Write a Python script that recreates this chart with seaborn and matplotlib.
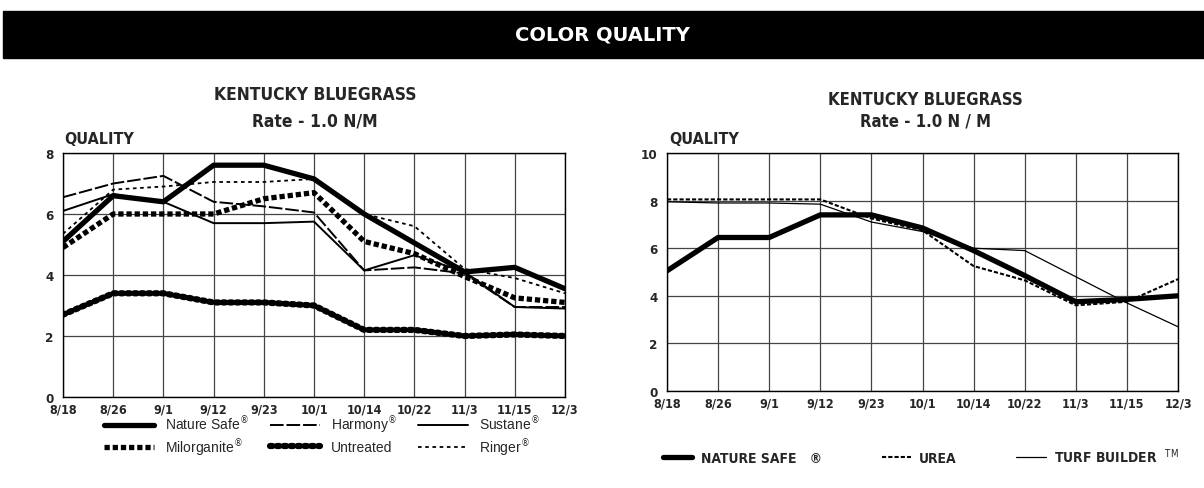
import numpy as np
import pandas as pd
import matplotlib
matplotlib.use("Agg")
import matplotlib.pyplot as plt
import seaborn as sb
from matplotlib.patches import Rectangle

# Datas de avaliação
datas = ["8/18", "8/26", "9/1", "9/12", "9/23", "10/1", "10/14", "10/22", "11/3", "11/15", "12/3"]

# Gráfico da esquerda
nature_safe_e = [5.1, 6.6, 6.4, 7.6, 7.6, 7.15, 6.0, 5.05, 4.1, 4.25, 3.55]
milorganite = [4.9, 6.0, 6.0, 6.0, 6.5, 6.7, 5.1, 4.7, 3.95, 3.25, 3.1]
untreated = [2.7, 3.4, 3.4, 3.1, 3.1, 3.0, 2.2, 2.2, 2.0, 2.05, 2.0]
harmony = [6.55, 7.0, 7.25, 6.4, 6.25, 6.05, 4.15, 4.25, 4.05, 2.95, 2.95]
sustane = [6.1, 6.65, 6.4, 5.7, 5.7, 5.75, 4.15, 4.65, 4.1, 2.95, 2.9]
ringer = [5.35, 6.8, 6.9, 7.05, 7.05, 7.15, 6.0, 5.6, 4.2, 3.9, 3.4]

# Gráfico da direita
nature_safe_d = [5.05, 6.45, 6.45, 7.4, 7.4, 6.85, 5.9, 4.85, 3.75, 3.85, 4.0]
urea = [8.05, 8.05, 8.05, 8.05, 7.25, 6.75, 5.25, 4.65, 3.6, 3.75, 4.7]
turf_builder = [7.95, 7.9, 7.9, 7.85, 7.1, 6.7, 6.0, 5.9, 4.8, 3.7, 2.7]

sb.set_style("white")
plt.rcParams["font.family"] = ["DejaVu Sans"]
plt.rcParams["font.stretch"] = "condensed"

# fonte estreita e negrito para títulos e eixos
estreita = dict(family="DejaVu Sans", stretch="condensed", weight="bold")

fig = plt.figure(figsize=(12.04, 4.89), dpi=100)

# Faixa preta do título
fig.patches.append(Rectangle((3 / 1204, 1 - 59 / 489), 1, 47 / 489,
                             transform=fig.transFigure, color="black", zorder=0))
fig.text(0.5, 1 - 35 / 489, "COLOR QUALITY", color="white", ha="center", va="center",
         fontsize=14, fontweight="bold", family="DejaVu Sans", fontstretch="normal")

pos_x = np.arange(len(datas))


def prepara_eixo(ax, ymax):
    ax.set_xlim(0, len(datas) - 1)
    ax.set_ylim(0, ymax)
    ax.set_xticks(pos_x)
    ax.set_xticklabels(datas, fontsize=9, **estreita)
    ax.set_yticks(np.arange(0, ymax + 1, 2))
    ax.set_yticklabels([str(v) for v in range(0, ymax + 1, 2)], fontsize=9.5, **estreita)
    ax.tick_params(axis="x", length=0, pad=4)
    ax.tick_params(axis="y", length=0, pad=7)
    ax.grid(True, color="#444444", linewidth=0.9)
    for s in ax.spines.values():
        s.set_color("black")
        s.set_linewidth(1.0)
    ax.set_xlabel("")
    ax.set_ylabel("")


# ---- Esquerda ----
ax1 = fig.add_axes([63 / 1204, 1 - 398 / 489, 502 / 1204, 244 / 489])
series_e = [
    (nature_safe_e, "Nature Safe$^{\\circledR}$", dict(linewidth=3.8, linestyle="-")),
    (milorganite, "Milorganite$^{\\circledR}$", dict(linewidth=3.8, linestyle=(0, (1.0, 0.55)))),
    (harmony, "Harmony$^{\\circledR}$", dict(linewidth=1.4, linestyle=(0, (7, 1.5)))),
    (untreated, "Untreated", dict(linewidth=4.5, linestyle=(0, (0.4, 0.7)), dash_capstyle="round")),
    (sustane, "Sustane$^{\\circledR}$", dict(linewidth=1.4, linestyle="-")),
    (ringer, "Ringer$^{\\circledR}$", dict(linewidth=1.3, linestyle=(0, (2, 2)))),
]
for valores, nome, estilo in series_e:
    sb.lineplot(x=pos_x, y=valores, ax=ax1, color="black", label=nome, **estilo)
prepara_eixo(ax1, 8)
handles, labels = ax1.get_legend_handles_labels()
ax1.get_legend().remove()
fig.legend(handles, labels, loc="center", bbox_to_anchor=(322 / 1204, 1 - 437 / 489),
           ncol=3, frameon=False, handlelength=3.6, handletextpad=0.8, columnspacing=1.5,
           labelspacing=0.3,
           prop={"family": "Liberation Sans", "size": 10, "stretch": "normal"})

fig.text(315 / 1204, 1 - 95 / 489, "KENTUCKY BLUEGRASS", ha="center", va="center",
         fontsize=12.5, **estreita)
fig.text(315 / 1204, 1 - 122 / 489, "Rate - 1.0 N/M", ha="center", va="center",
         fontsize=12.5, **estreita)
fig.text(64 / 1204, 1 - 140 / 489, "QUALITY", ha="left", va="center",
         fontsize=11.5, **estreita)

# ---- Direita ----
ax2 = fig.add_axes([667 / 1204, 1 - 392 / 489, 511 / 1204, 238 / 489])
series_d = [
    (nature_safe_d, "NATURE SAFE   \u00ae", dict(linewidth=3.8, linestyle="-")),
    (urea, "UREA", dict(linewidth=1.5, linestyle=(0, (2, 1)))),
    (turf_builder, "TURF BUILDER  $^{\\mathrm{TM}}$", dict(linewidth=0.9, linestyle="-")),
]
for valores, nome, estilo in series_d:
    sb.lineplot(x=pos_x, y=valores, ax=ax2, color="black", label=nome, **estilo)
prepara_eixo(ax2, 10)
handles, labels = ax2.get_legend_handles_labels()
ax2.get_legend().remove()
fig.legend(handles, labels, loc="center", bbox_to_anchor=(921 / 1204, 1 - 457 / 489),
           ncol=3, frameon=False, handlelength=2.1, handletextpad=0.6, columnspacing=4.3,
           prop={"size": 10, "weight": "bold", "family": "DejaVu Sans", "stretch": "condensed"})

fig.text(925 / 1204, 1 - 100 / 489, "KENTUCKY BLUEGRASS", ha="center", va="center",
         fontsize=12, **estreita)
fig.text(925 / 1204, 1 - 122 / 489, "Rate - 1.0 N / M", ha="center", va="center",
         fontsize=12, **estreita)
fig.text(669 / 1204, 1 - 139 / 489, "QUALITY", ha="left", va="center",
         fontsize=11.5, **estreita)

fig.savefig("out.png", dpi=100)
